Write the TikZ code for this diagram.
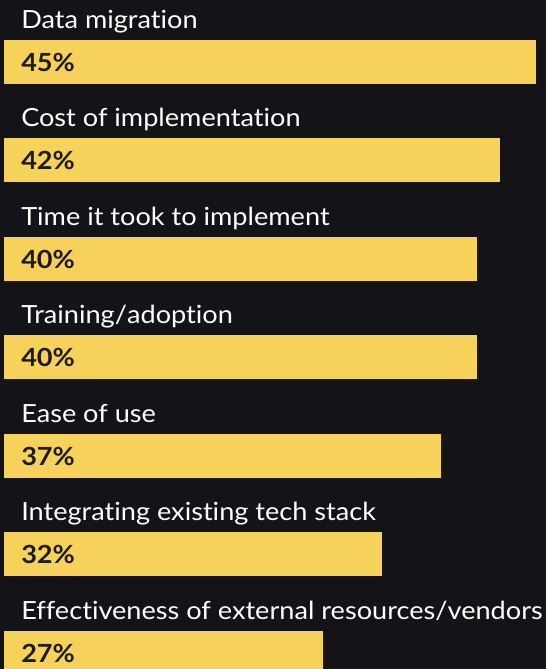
\documentclass[tikz,border=0pt]{standalone}
\usepackage{fontspec}
\setmainfont{Lato}[FakeStretch=1.085, Ligatures=NoCommon]
\usepackage{xcolor}
\usepackage{tikz}
\definecolor{chartbg}{HTML}{141318}
\definecolor{baryellow}{HTML}{F7D25A}
\definecolor{pctdark}{HTML}{1C1B20}
\usetikzlibrary{positioning}

\begin{document}
\begin{tikzpicture}[
    x=0.75pt, y=-0.75pt,
    catlabel/.style={anchor=base west, inner sep=0pt, text=white,
                font=\fontsize{18.75}{22}\selectfont},
    pctlabel/.style={anchor=base west, inner sep=0pt, text=pctdark,
                font=\fontsize{18.75}{22}\selectfont\bfseries},
    bar/.style={fill=baryellow}
]
    \fill[chartbg] (0,0) rectangle (546,669);
    \useasboundingbox (0,0) rectangle (546,669);

    % one row per answer: label above, bar with share below
    \foreach \val/\txt [count=\i from 0] in {
        45/Data migration,
        42/Cost of implementation,
        40/Time it took to implement,
        40/Training\slash adoption,
        37/Ease of use,
        32/Integrating existing tech stack,
        27/Effectiveness of external resources\slash vendors}{
        \pgfmathsetmacro{\ybar}{39.5+98.5*\i}
        \fill[bar] (4,\ybar) rectangle ({4+11.82*\val},\ybar+44);
        \node[catlabel] (cat\i) at (21,\ybar-11.5) {\txt};
        \node[pctlabel] (pct\i) at (21,\ybar+31.5) {\val\%};
    }
\end{tikzpicture}
\end{document}
